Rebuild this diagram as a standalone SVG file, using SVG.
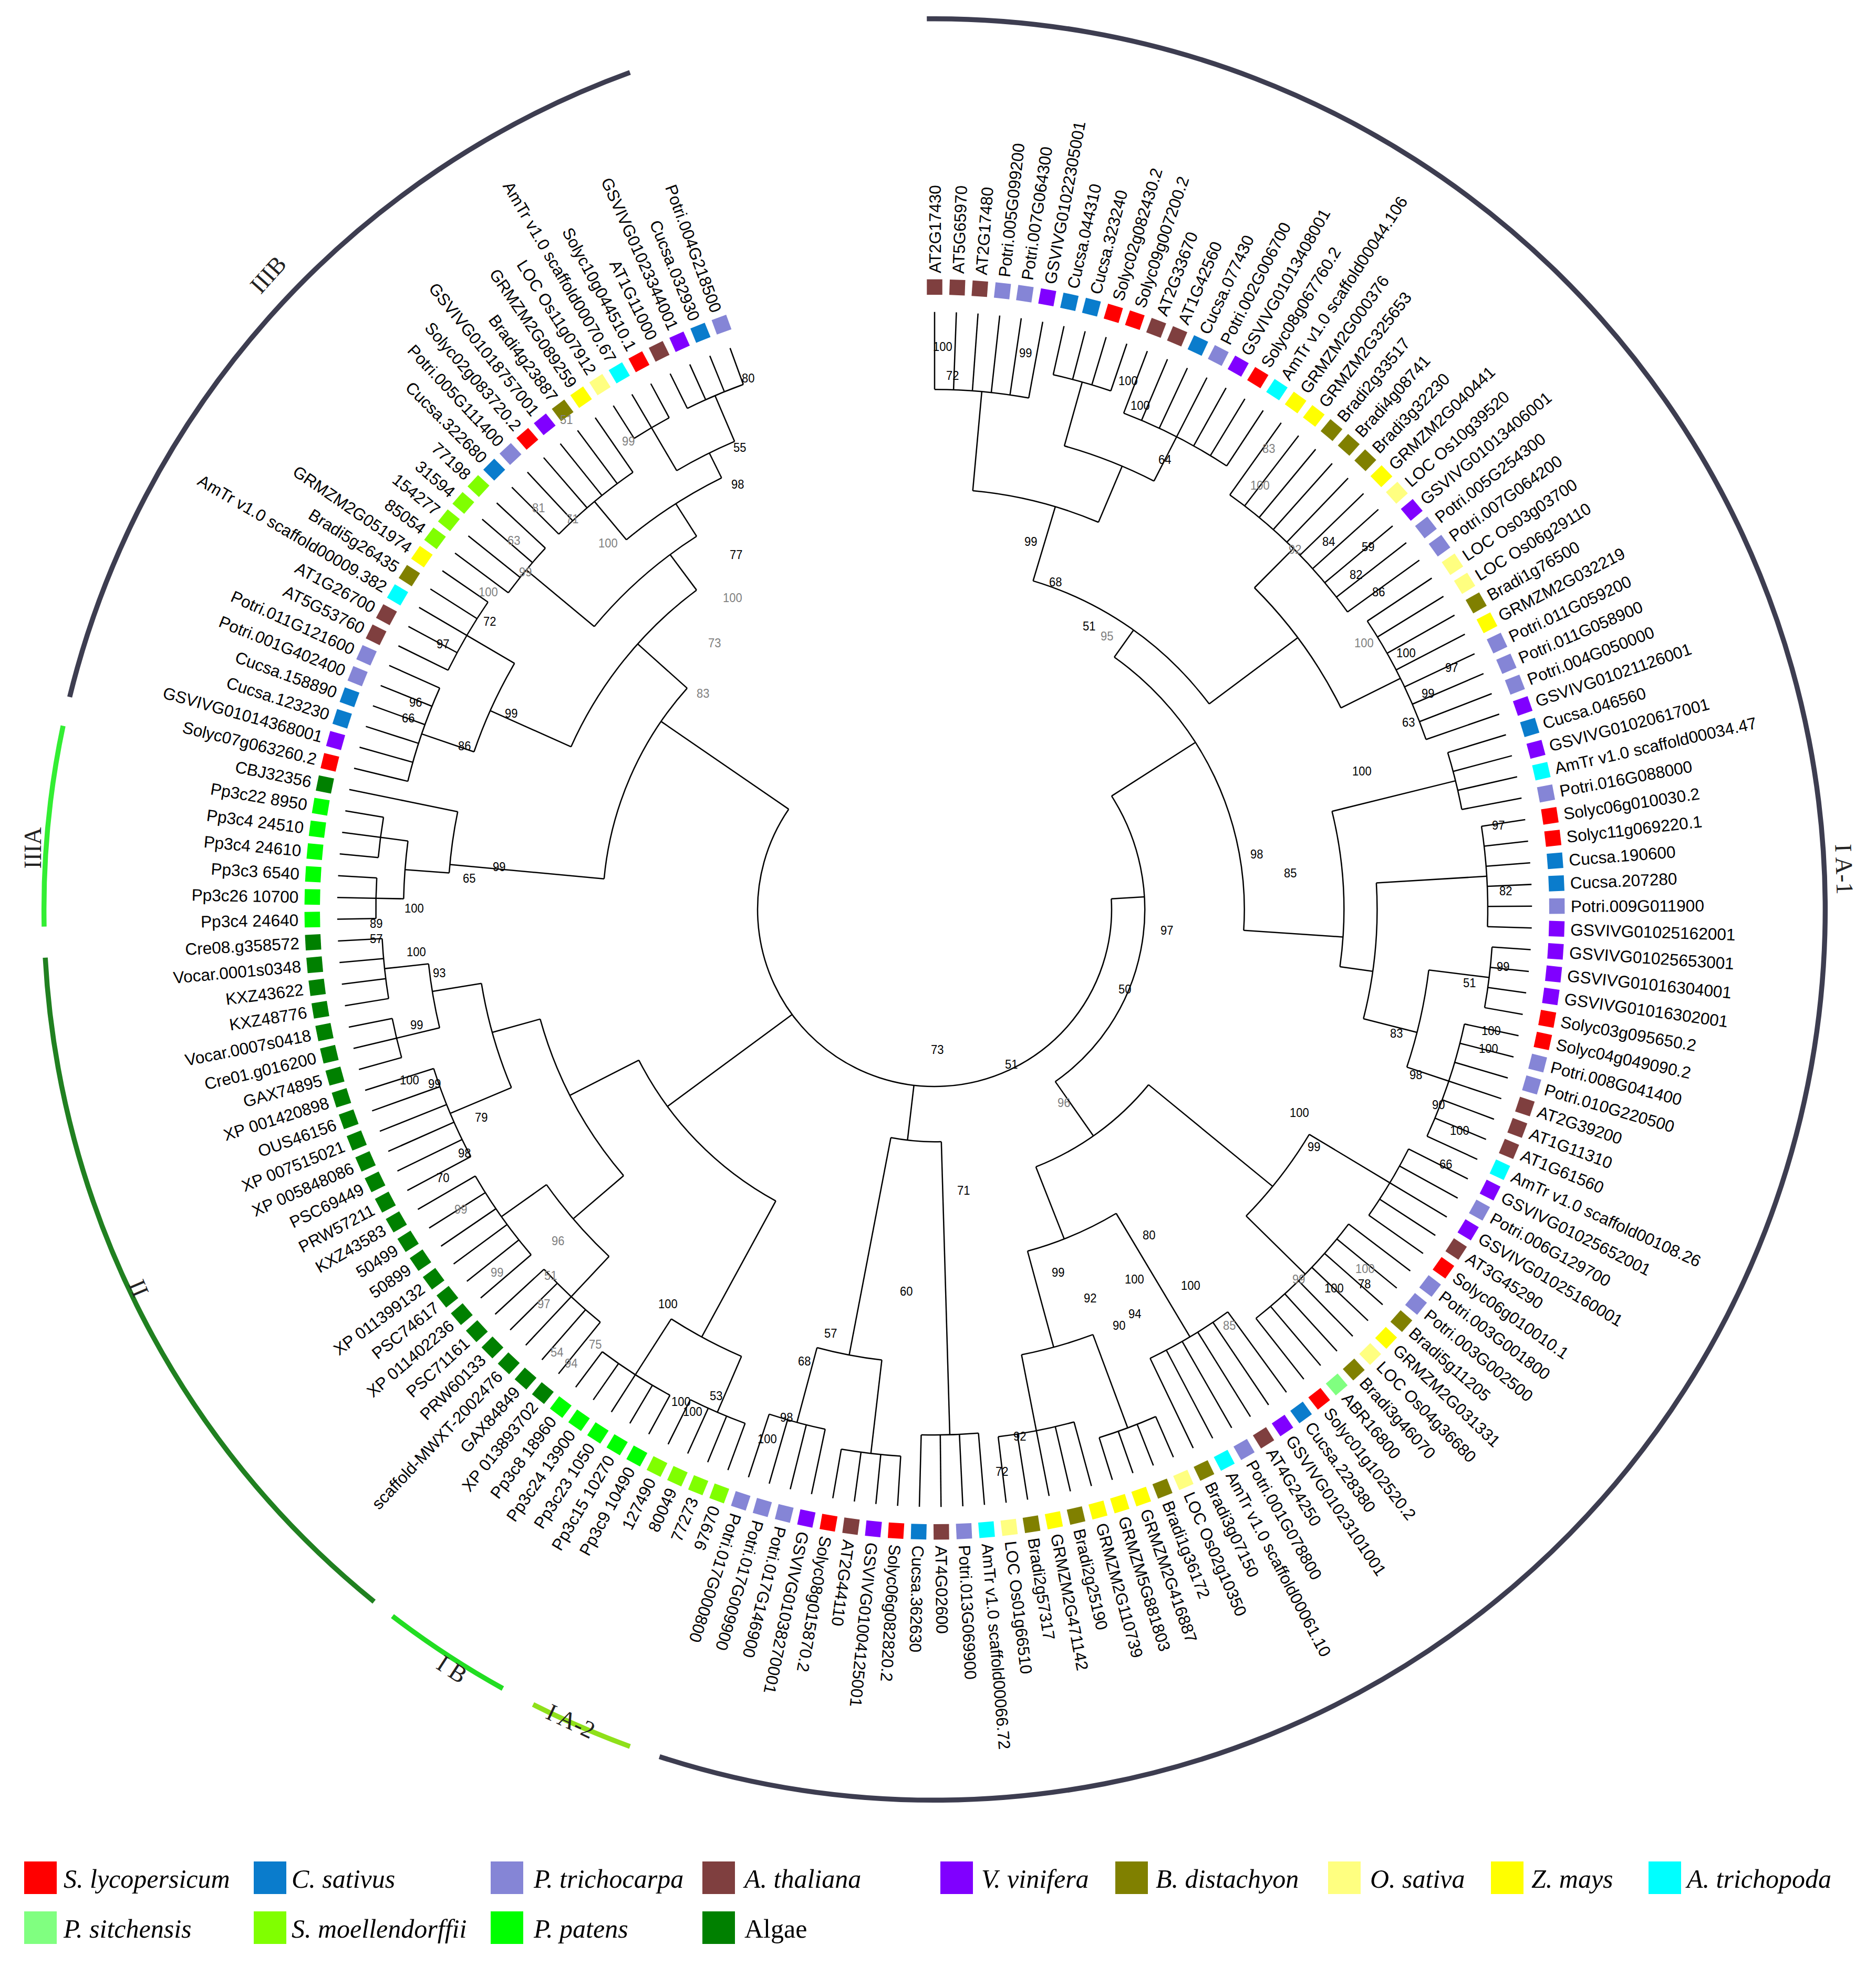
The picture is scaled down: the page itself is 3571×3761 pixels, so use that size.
<svg xmlns="http://www.w3.org/2000/svg" width="3571" height="3761" viewBox="0 0 3571 3761">
<style>
.t text{font-family:"Liberation Sans",Arial,sans-serif;font-size:30px;fill:#000}
.t .e{text-anchor:end}
.cn path,.cn circle{stroke:#000;stroke-width:2.4;fill:none}
.cl{fill:none;stroke-width:9}
.sl{fill:#ff0000}.cs{fill:#0a7ccc}.pt{fill:#8585d6}.at{fill:#7f3f3f}.vv{fill:#8000ff}.bd{fill:#808000}.os{fill:#ffff80}.zm{fill:#ffff00}.am{fill:#00ffff}.ps{fill:#80ff80}.sm{fill:#80ff00}.pp{fill:#00ff00}.al{fill:#008000}
.b{font-family:"Liberation Sans",Arial,sans-serif;font-size:22px;fill:#000}
.g{fill:#808080}
.cln{font-family:"Liberation Serif","Times New Roman",serif;font-size:46px;fill:#222}
.lg{font-family:"Liberation Serif","Times New Roman",serif;font-size:50px;font-style:italic;fill:#000}
.lgn{font-family:"Liberation Serif","Times New Roman",serif;font-size:50px;font-style:normal;fill:#000}
</style>
<rect width="3571" height="3761" fill="#fff"/>
<g transform="translate(1779,1731) scale(1.053)">
<g id="clade-arcs">
<circle class="cl" r="1610" pathLength="360" stroke="#3d3d50" stroke-dasharray="198.5 720" transform="rotate(-90.5)"/>
<circle class="cl" r="1610" pathLength="360" stroke="#8fe01a" stroke-dasharray="6.8 720" transform="rotate(110)"/>
<circle class="cl" r="1610" pathLength="360" stroke="#22dd22" stroke-dasharray="8.5 720" transform="rotate(119)"/>
<circle class="cl" r="1610" pathLength="360" stroke="#208020" stroke-dasharray="47.9 720" transform="rotate(129)"/>
<circle class="cl" r="1610" pathLength="360" stroke="#33ee33" stroke-dasharray="13 720" transform="rotate(178.9)"/>
<circle class="cl" r="1610" pathLength="360" stroke="#3d3d50" stroke-dasharray="56.2 720" transform="rotate(193.8)"/>
</g>
<g id="connectors" class="cn">
<circle r="320" pathLength="360" stroke-dasharray="217.94 720" transform="rotate(-3.44)"/>
<circle r="600" pathLength="360" stroke-dasharray="36.5 720" transform="rotate(185.3)"/>
<circle r="880" pathLength="360" stroke-dasharray="7.3 720" transform="rotate(184.3)"/>
<circle r="960" pathLength="360" stroke-dasharray="6.26 720" transform="rotate(181.15)"/>
<circle r="1010" pathLength="360" stroke-dasharray="4.17 720" transform="rotate(179.07)"/>
<circle r="1010" pathLength="360" stroke-dasharray="4.17 720" transform="rotate(185.33)"/>
<circle r="720" pathLength="360" stroke-dasharray="29.2 720" transform="rotate(204.1)"/>
<circle r="880" pathLength="360" stroke-dasharray="11.47 720" transform="rotate(198.89)"/>
<circle r="980" pathLength="360" stroke-dasharray="10.43 720" transform="rotate(193.67)"/>
<circle r="980" pathLength="360" stroke-dasharray="8.35 720" transform="rotate(206.18)"/>
<circle r="800" pathLength="360" stroke-dasharray="17.73 720" transform="rotate(219.74)"/>
<circle r="960" pathLength="360" stroke-dasharray="6.26 720" transform="rotate(216.61)"/>
<circle r="870" pathLength="360" stroke-dasharray="13.55 720" transform="rotate(230.18)"/>
<circle r="960" pathLength="360" stroke-dasharray="10.43 720" transform="rotate(224.96)"/>
<circle r="920" pathLength="360" stroke-dasharray="7.3 720" transform="rotate(239.56)"/>
<circle r="1010" pathLength="360" stroke-dasharray="4.17 720" transform="rotate(237.47)"/>
<circle r="1010" pathLength="360" stroke-dasharray="6.25 720" transform="rotate(243.73)"/>
<circle r="600" pathLength="360" stroke-dasharray="34.42 720" transform="rotate(118.58)"/>
<circle r="880" pathLength="360" stroke-dasharray="9.38 720" transform="rotate(113.37)"/>
<circle r="990" pathLength="360" stroke-dasharray="6.25 720" transform="rotate(110.24)"/>
<circle r="1000" pathLength="360" stroke-dasharray="8.34 720" transform="rotate(118.58)"/>
<circle r="740" pathLength="360" stroke-dasharray="25.03 720" transform="rotate(139.44)"/>
<circle r="860" pathLength="360" stroke-dasharray="11.48 720" transform="rotate(133.18)"/>
<circle r="960" pathLength="360" stroke-dasharray="8.34 720" transform="rotate(129.01)"/>
<circle r="960" pathLength="360" stroke-dasharray="10.43 720" transform="rotate(139.44)"/>
<circle r="830" pathLength="360" stroke-dasharray="13.56 720" transform="rotate(157.17)"/>
<circle r="950" pathLength="360" stroke-dasharray="10.43 720" transform="rotate(151.95)"/>
<circle r="920" pathLength="360" stroke-dasharray="7.31 720" transform="rotate(166.55)"/>
<circle r="1000" pathLength="360" stroke-dasharray="4.17 720" transform="rotate(164.47)"/>
<circle r="1000" pathLength="360" stroke-dasharray="6.25 720" transform="rotate(170.73)"/>
<circle r="420" pathLength="360" stroke-dasharray="12.51 720" transform="rotate(88.34)"/>
<circle r="950" pathLength="360" stroke-dasharray="6.25 720" transform="rotate(85.21)"/>
<circle r="820" pathLength="360" stroke-dasharray="8.34 720" transform="rotate(96.68)"/>
<circle r="990" pathLength="360" stroke-dasharray="6.26 720" transform="rotate(93.55)"/>
<circle r="960" pathLength="360" stroke-dasharray="6.26 720" transform="rotate(101.89)"/>
<circle r="380" pathLength="360" stroke-dasharray="87.6 720" transform="rotate(-32.64)"/>
<circle r="560" pathLength="360" stroke-dasharray="58.4 720" transform="rotate(-54.54)"/>
<circle r="620" pathLength="360" stroke-dasharray="36.5 720" transform="rotate(-73.31)"/>
<circle r="760" pathLength="360" stroke-dasharray="17.73 720" transform="rotate(-84.79)"/>
<circle r="940" pathLength="360" stroke-dasharray="10.43 720" transform="rotate(-90)"/>
<circle r="870" pathLength="360" stroke-dasharray="11.48 720" transform="rotate(-74.36)"/>
<circle r="990" pathLength="360" stroke-dasharray="6.26 720" transform="rotate(-77.49)"/>
<circle r="960" pathLength="360" stroke-dasharray="12.51 720" transform="rotate(-69.14)"/>
<circle r="820" pathLength="360" stroke-dasharray="18.78 720" transform="rotate(-45.16)"/>
<circle r="920" pathLength="360" stroke-dasharray="18.77 720" transform="rotate(-54.54)"/>
<circle r="940" pathLength="360" stroke-dasharray="14.6 720" transform="rotate(-33.68)"/>
<circle r="740" pathLength="360" stroke-dasharray="21.91 720" transform="rotate(-13.87)"/>
<circle r="970" pathLength="360" stroke-dasharray="6.26 720" transform="rotate(-17)"/>
<circle r="800" pathLength="360" stroke-dasharray="17.73 720" transform="rotate(-3.44)"/>
<circle r="1000" pathLength="360" stroke-dasharray="10.43 720" transform="rotate(-8.65)"/>
<circle r="900" pathLength="360" stroke-dasharray="11.47 720" transform="rotate(6.99)"/>
<circle r="1010" pathLength="360" stroke-dasharray="6.26 720" transform="rotate(3.86)"/>
<circle r="980" pathLength="360" stroke-dasharray="12.52 720" transform="rotate(12.2)"/>
<circle r="500" pathLength="360" stroke-dasharray="29.2 720" transform="rotate(39.32)"/>
<circle r="790" pathLength="360" stroke-dasharray="13.55 720" transform="rotate(30.98)"/>
<circle r="960" pathLength="360" stroke-dasharray="8.35 720" transform="rotate(26.8)"/>
<circle r="940" pathLength="360" stroke-dasharray="14.6 720" transform="rotate(37.23)"/>
<circle r="640" pathLength="360" stroke-dasharray="15.64 720" transform="rotate(59.14)"/>
<circle r="900" pathLength="360" stroke-dasharray="10.43 720" transform="rotate(53.92)"/>
<circle r="820" pathLength="360" stroke-dasharray="9.38 720" transform="rotate(69.57)"/>
<circle r="1000" pathLength="360" stroke-dasharray="6.25 720" transform="rotate(66.44)"/>
<circle r="960" pathLength="360" stroke-dasharray="8.34 720" transform="rotate(74.78)"/>
<path d="M320 0H600" transform="rotate(214.5)"/>
<path d="M320 0H600" transform="rotate(143.6)"/>
<path d="M320 0H420" transform="rotate(96.7)"/>
<path d="M320 0H380" transform="rotate(-3.44)"/>
<path d="M600 0H880" transform="rotate(185.3)"/>
<path d="M600 0H720" transform="rotate(221.8)"/>
<path d="M880 0H960" transform="rotate(184.3)"/>
<path d="M960 0H1010" transform="rotate(181.15)"/>
<path d="M960 0H1010" transform="rotate(187.41)"/>
<path d="M720 0H880" transform="rotate(204.1)"/>
<path d="M720 0H800" transform="rotate(233.3)"/>
<path d="M880 0H980" transform="rotate(198.89)"/>
<path d="M880 0H980" transform="rotate(210.36)"/>
<path d="M800 0H960" transform="rotate(219.74)"/>
<path d="M800 0H870" transform="rotate(237.47)"/>
<path d="M870 0H960" transform="rotate(230.18)"/>
<path d="M870 0H920" transform="rotate(243.73)"/>
<path d="M920 0H1010" transform="rotate(239.56)"/>
<path d="M920 0H1010" transform="rotate(246.86)"/>
<path d="M600 0H880" transform="rotate(118.58)"/>
<path d="M600 0H740" transform="rotate(153)"/>
<path d="M880 0H990" transform="rotate(113.37)"/>
<path d="M880 0H1000" transform="rotate(122.75)"/>
<path d="M740 0H860" transform="rotate(139.44)"/>
<path d="M740 0H830" transform="rotate(164.47)"/>
<path d="M860 0H960" transform="rotate(133.18)"/>
<path d="M860 0H960" transform="rotate(144.66)"/>
<path d="M830 0H950" transform="rotate(157.17)"/>
<path d="M830 0H920" transform="rotate(170.73)"/>
<path d="M920 0H1000" transform="rotate(166.55)"/>
<path d="M920 0H1000" transform="rotate(173.86)"/>
<path d="M420 0H950" transform="rotate(88.34)"/>
<path d="M420 0H820" transform="rotate(100.85)"/>
<path d="M820 0H990" transform="rotate(96.68)"/>
<path d="M820 0H960" transform="rotate(105.02)"/>
<path d="M380 0H560" transform="rotate(-32.64)"/>
<path d="M380 0H500" transform="rotate(54.96)"/>
<path d="M560 0H620" transform="rotate(-54.54)"/>
<path d="M560 0H740" transform="rotate(3.86)"/>
<path d="M620 0H760" transform="rotate(-73.31)"/>
<path d="M620 0H820" transform="rotate(-36.81)"/>
<path d="M760 0H940" transform="rotate(-84.79)"/>
<path d="M760 0H870" transform="rotate(-67.06)"/>
<path d="M870 0H990" transform="rotate(-74.36)"/>
<path d="M870 0H960" transform="rotate(-62.88)"/>
<path d="M820 0H920" transform="rotate(-45.16)"/>
<path d="M820 0H940" transform="rotate(-26.38)"/>
<path d="M740 0H970" transform="rotate(-13.87)"/>
<path d="M740 0H800" transform="rotate(8.04)"/>
<path d="M800 0H1000" transform="rotate(-3.44)"/>
<path d="M800 0H900" transform="rotate(14.29)"/>
<path d="M900 0H1010" transform="rotate(6.99)"/>
<path d="M900 0H980" transform="rotate(18.46)"/>
<path d="M500 0H790" transform="rotate(39.32)"/>
<path d="M500 0H640" transform="rotate(68.52)"/>
<path d="M790 0H960" transform="rotate(30.98)"/>
<path d="M790 0H940" transform="rotate(44.53)"/>
<path d="M640 0H900" transform="rotate(59.14)"/>
<path d="M640 0H820" transform="rotate(74.78)"/>
<path d="M820 0H1000" transform="rotate(69.57)"/>
<path d="M820 0H960" transform="rotate(78.95)"/>
<path d="M940 0H1080" transform="rotate(-90)"/>
<path d="M940 0H1080" transform="rotate(-87.91)"/>
<path d="M940 0H1080" transform="rotate(-85.83)"/>
<path d="M940 0H1080" transform="rotate(-83.74)"/>
<path d="M940 0H1080" transform="rotate(-81.66)"/>
<path d="M940 0H1080" transform="rotate(-79.57)"/>
<path d="M990 0H1080" transform="rotate(-77.49)"/>
<path d="M990 0H1080" transform="rotate(-75.4)"/>
<path d="M990 0H1080" transform="rotate(-73.31)"/>
<path d="M990 0H1080" transform="rotate(-71.23)"/>
<path d="M960 0H1080" transform="rotate(-69.14)"/>
<path d="M960 0H1080" transform="rotate(-67.06)"/>
<path d="M960 0H1080" transform="rotate(-64.97)"/>
<path d="M960 0H1080" transform="rotate(-62.88)"/>
<path d="M960 0H1080" transform="rotate(-60.8)"/>
<path d="M960 0H1080" transform="rotate(-58.71)"/>
<path d="M960 0H1080" transform="rotate(-56.63)"/>
<path d="M920 0H1080" transform="rotate(-54.54)"/>
<path d="M920 0H1080" transform="rotate(-52.46)"/>
<path d="M920 0H1080" transform="rotate(-50.37)"/>
<path d="M920 0H1080" transform="rotate(-48.28)"/>
<path d="M920 0H1080" transform="rotate(-46.2)"/>
<path d="M920 0H1080" transform="rotate(-44.11)"/>
<path d="M920 0H1080" transform="rotate(-42.03)"/>
<path d="M920 0H1080" transform="rotate(-39.94)"/>
<path d="M920 0H1080" transform="rotate(-37.86)"/>
<path d="M920 0H1080" transform="rotate(-35.77)"/>
<path d="M940 0H1080" transform="rotate(-33.68)"/>
<path d="M940 0H1080" transform="rotate(-31.6)"/>
<path d="M940 0H1080" transform="rotate(-29.51)"/>
<path d="M940 0H1080" transform="rotate(-27.43)"/>
<path d="M940 0H1080" transform="rotate(-25.34)"/>
<path d="M940 0H1080" transform="rotate(-23.25)"/>
<path d="M940 0H1080" transform="rotate(-21.17)"/>
<path d="M940 0H1080" transform="rotate(-19.08)"/>
<path d="M970 0H1080" transform="rotate(-17)"/>
<path d="M970 0H1080" transform="rotate(-14.91)"/>
<path d="M970 0H1080" transform="rotate(-12.83)"/>
<path d="M970 0H1080" transform="rotate(-10.74)"/>
<path d="M1000 0H1080" transform="rotate(-8.65)"/>
<path d="M1000 0H1080" transform="rotate(-6.57)"/>
<path d="M1000 0H1080" transform="rotate(-4.48)"/>
<path d="M1000 0H1080" transform="rotate(-2.4)"/>
<path d="M1000 0H1080" transform="rotate(-0.31)"/>
<path d="M1000 0H1080" transform="rotate(1.78)"/>
<path d="M1010 0H1080" transform="rotate(3.86)"/>
<path d="M1010 0H1080" transform="rotate(5.95)"/>
<path d="M1010 0H1080" transform="rotate(8.03)"/>
<path d="M1010 0H1080" transform="rotate(10.12)"/>
<path d="M980 0H1080" transform="rotate(12.2)"/>
<path d="M980 0H1080" transform="rotate(14.29)"/>
<path d="M980 0H1080" transform="rotate(16.38)"/>
<path d="M980 0H1080" transform="rotate(18.46)"/>
<path d="M980 0H1080" transform="rotate(20.55)"/>
<path d="M980 0H1080" transform="rotate(22.63)"/>
<path d="M980 0H1080" transform="rotate(24.72)"/>
<path d="M960 0H1080" transform="rotate(26.8)"/>
<path d="M960 0H1080" transform="rotate(28.89)"/>
<path d="M960 0H1080" transform="rotate(30.98)"/>
<path d="M960 0H1080" transform="rotate(33.06)"/>
<path d="M960 0H1080" transform="rotate(35.15)"/>
<path d="M940 0H1080" transform="rotate(37.23)"/>
<path d="M940 0H1080" transform="rotate(39.32)"/>
<path d="M940 0H1080" transform="rotate(41.41)"/>
<path d="M940 0H1080" transform="rotate(43.49)"/>
<path d="M940 0H1080" transform="rotate(45.58)"/>
<path d="M940 0H1080" transform="rotate(47.66)"/>
<path d="M940 0H1080" transform="rotate(49.75)"/>
<path d="M940 0H1080" transform="rotate(51.83)"/>
<path d="M900 0H1080" transform="rotate(53.92)"/>
<path d="M900 0H1080" transform="rotate(56.01)"/>
<path d="M900 0H1080" transform="rotate(58.09)"/>
<path d="M900 0H1080" transform="rotate(60.18)"/>
<path d="M900 0H1080" transform="rotate(62.26)"/>
<path d="M900 0H1080" transform="rotate(64.35)"/>
<path d="M1000 0H1080" transform="rotate(66.44)"/>
<path d="M1000 0H1080" transform="rotate(68.52)"/>
<path d="M1000 0H1080" transform="rotate(70.61)"/>
<path d="M1000 0H1080" transform="rotate(72.69)"/>
<path d="M960 0H1080" transform="rotate(74.78)"/>
<path d="M960 0H1080" transform="rotate(76.86)"/>
<path d="M960 0H1080" transform="rotate(78.95)"/>
<path d="M960 0H1080" transform="rotate(81.04)"/>
<path d="M960 0H1080" transform="rotate(83.12)"/>
<path d="M950 0H1080" transform="rotate(85.21)"/>
<path d="M950 0H1080" transform="rotate(87.29)"/>
<path d="M950 0H1080" transform="rotate(89.38)"/>
<path d="M950 0H1080" transform="rotate(91.46)"/>
<path d="M990 0H1080" transform="rotate(93.55)"/>
<path d="M990 0H1080" transform="rotate(95.64)"/>
<path d="M990 0H1080" transform="rotate(97.72)"/>
<path d="M990 0H1080" transform="rotate(99.81)"/>
<path d="M960 0H1080" transform="rotate(101.89)"/>
<path d="M960 0H1080" transform="rotate(103.98)"/>
<path d="M960 0H1080" transform="rotate(106.07)"/>
<path d="M960 0H1080" transform="rotate(108.15)"/>
<path d="M990 0H1080" transform="rotate(110.24)"/>
<path d="M990 0H1080" transform="rotate(112.32)"/>
<path d="M990 0H1080" transform="rotate(114.41)"/>
<path d="M990 0H1080" transform="rotate(116.49)"/>
<path d="M1000 0H1080" transform="rotate(118.58)"/>
<path d="M1000 0H1080" transform="rotate(120.67)"/>
<path d="M1000 0H1080" transform="rotate(122.75)"/>
<path d="M1000 0H1080" transform="rotate(124.84)"/>
<path d="M1000 0H1080" transform="rotate(126.92)"/>
<path d="M960 0H1080" transform="rotate(129.01)"/>
<path d="M960 0H1080" transform="rotate(131.09)"/>
<path d="M960 0H1080" transform="rotate(133.18)"/>
<path d="M960 0H1080" transform="rotate(135.27)"/>
<path d="M960 0H1080" transform="rotate(137.35)"/>
<path d="M960 0H1080" transform="rotate(139.44)"/>
<path d="M960 0H1080" transform="rotate(141.52)"/>
<path d="M960 0H1080" transform="rotate(143.61)"/>
<path d="M960 0H1080" transform="rotate(145.7)"/>
<path d="M960 0H1080" transform="rotate(147.78)"/>
<path d="M960 0H1080" transform="rotate(149.87)"/>
<path d="M950 0H1080" transform="rotate(151.95)"/>
<path d="M950 0H1080" transform="rotate(154.04)"/>
<path d="M950 0H1080" transform="rotate(156.12)"/>
<path d="M950 0H1080" transform="rotate(158.21)"/>
<path d="M950 0H1080" transform="rotate(160.3)"/>
<path d="M950 0H1080" transform="rotate(162.38)"/>
<path d="M1000 0H1080" transform="rotate(164.47)"/>
<path d="M1000 0H1080" transform="rotate(166.55)"/>
<path d="M1000 0H1080" transform="rotate(168.64)"/>
<path d="M1000 0H1080" transform="rotate(170.73)"/>
<path d="M1000 0H1080" transform="rotate(172.81)"/>
<path d="M1000 0H1080" transform="rotate(174.9)"/>
<path d="M1000 0H1080" transform="rotate(176.98)"/>
<path d="M1010 0H1080" transform="rotate(179.07)"/>
<path d="M1010 0H1080" transform="rotate(181.15)"/>
<path d="M1010 0H1080" transform="rotate(183.24)"/>
<path d="M1010 0H1080" transform="rotate(185.33)"/>
<path d="M1010 0H1080" transform="rotate(187.41)"/>
<path d="M1010 0H1080" transform="rotate(189.5)"/>
<path d="M880 0H1080" transform="rotate(191.58)"/>
<path d="M980 0H1080" transform="rotate(193.67)"/>
<path d="M980 0H1080" transform="rotate(195.75)"/>
<path d="M980 0H1080" transform="rotate(197.84)"/>
<path d="M980 0H1080" transform="rotate(199.93)"/>
<path d="M980 0H1080" transform="rotate(202.01)"/>
<path d="M980 0H1080" transform="rotate(204.1)"/>
<path d="M980 0H1080" transform="rotate(206.18)"/>
<path d="M980 0H1080" transform="rotate(208.27)"/>
<path d="M980 0H1080" transform="rotate(210.36)"/>
<path d="M980 0H1080" transform="rotate(212.44)"/>
<path d="M980 0H1080" transform="rotate(214.53)"/>
<path d="M960 0H1080" transform="rotate(216.61)"/>
<path d="M960 0H1080" transform="rotate(218.7)"/>
<path d="M960 0H1080" transform="rotate(220.78)"/>
<path d="M960 0H1080" transform="rotate(222.87)"/>
<path d="M960 0H1080" transform="rotate(224.96)"/>
<path d="M960 0H1080" transform="rotate(227.04)"/>
<path d="M960 0H1080" transform="rotate(229.13)"/>
<path d="M960 0H1080" transform="rotate(231.21)"/>
<path d="M960 0H1080" transform="rotate(233.3)"/>
<path d="M960 0H1080" transform="rotate(235.39)"/>
<path d="M1010 0H1080" transform="rotate(237.47)"/>
<path d="M1010 0H1080" transform="rotate(239.56)"/>
<path d="M1010 0H1080" transform="rotate(241.64)"/>
<path d="M1010 0H1080" transform="rotate(243.73)"/>
<path d="M1010 0H1080" transform="rotate(245.81)"/>
<path d="M1010 0H1080" transform="rotate(247.9)"/>
<path d="M1010 0H1080" transform="rotate(249.98)"/>
</g>
<g class="t">
<g id="n0" transform="rotate(-90)"><rect class="at" x="1111" y="-14" width="28" height="28"/><text x="1150" y="11">AT2G17430</text></g>
<g id="n1" transform="rotate(-87.91)"><rect class="at" x="1111" y="-14" width="28" height="28"/><text x="1150" y="11">AT5G65970</text></g>
<g id="n2" transform="rotate(-85.83)"><rect class="at" x="1111" y="-14" width="28" height="28"/><text x="1150" y="11">AT2G17480</text></g>
<g id="n3" transform="rotate(-83.74)"><rect class="pt" x="1111" y="-14" width="28" height="28"/><text x="1150" y="11">Potri.005G099200</text></g>
<g id="n4" transform="rotate(-81.66)"><rect class="pt" x="1111" y="-14" width="28" height="28"/><text x="1150" y="11">Potri.007G064300</text></g>
<g id="n5" transform="rotate(-79.57)"><rect class="vv" x="1111" y="-14" width="28" height="28"/><text x="1150" y="11">GSVIVG01022305001</text></g>
<g id="n6" transform="rotate(-77.49)"><rect class="cs" x="1111" y="-14" width="28" height="28"/><text x="1150" y="11">Cucsa.044310</text></g>
<g id="n7" transform="rotate(-75.4)"><rect class="cs" x="1111" y="-14" width="28" height="28"/><text x="1150" y="11">Cucsa.323240</text></g>
<g id="n8" transform="rotate(-73.31)"><rect class="sl" x="1111" y="-14" width="28" height="28"/><text x="1150" y="11">Solyc02g082430.2</text></g>
<g id="n9" transform="rotate(-71.23)"><rect class="sl" x="1111" y="-14" width="28" height="28"/><text x="1150" y="11">Solyc09g007200.2</text></g>
<g id="n10" transform="rotate(-69.14)"><rect class="at" x="1111" y="-14" width="28" height="28"/><text x="1150" y="11">AT2G33670</text></g>
<g id="n11" transform="rotate(-67.06)"><rect class="at" x="1111" y="-14" width="28" height="28"/><text x="1150" y="11">AT1G42560</text></g>
<g id="n12" transform="rotate(-64.97)"><rect class="cs" x="1111" y="-14" width="28" height="28"/><text x="1150" y="11">Cucsa.077430</text></g>
<g id="n13" transform="rotate(-62.88)"><rect class="pt" x="1111" y="-14" width="28" height="28"/><text x="1150" y="11">Potri.002G006700</text></g>
<g id="n14" transform="rotate(-60.8)"><rect class="vv" x="1111" y="-14" width="28" height="28"/><text x="1150" y="11">GSVIVG01013408001</text></g>
<g id="n15" transform="rotate(-58.71)"><rect class="sl" x="1111" y="-14" width="28" height="28"/><text x="1150" y="11">Solyc08g067760.2</text></g>
<g id="n16" transform="rotate(-56.63)"><rect class="am" x="1111" y="-14" width="28" height="28"/><text x="1150" y="11">AmTr v1.0 scaffold00044.106</text></g>
<g id="n17" transform="rotate(-54.54)"><rect class="zm" x="1111" y="-14" width="28" height="28"/><text x="1150" y="11">GRMZM2G000376</text></g>
<g id="n18" transform="rotate(-52.46)"><rect class="zm" x="1111" y="-14" width="28" height="28"/><text x="1150" y="11">GRMZM2G325653</text></g>
<g id="n19" transform="rotate(-50.37)"><rect class="bd" x="1111" y="-14" width="28" height="28"/><text x="1150" y="11">Bradi2g33517</text></g>
<g id="n20" transform="rotate(-48.28)"><rect class="bd" x="1111" y="-14" width="28" height="28"/><text x="1150" y="11">Bradi4g08741</text></g>
<g id="n21" transform="rotate(-46.2)"><rect class="bd" x="1111" y="-14" width="28" height="28"/><text x="1150" y="11">Bradi3g32230</text></g>
<g id="n22" transform="rotate(-44.11)"><rect class="zm" x="1111" y="-14" width="28" height="28"/><text x="1150" y="11">GRMZM2G040441</text></g>
<g id="n23" transform="rotate(-42.03)"><rect class="os" x="1111" y="-14" width="28" height="28"/><text x="1150" y="11">LOC Os10g39520</text></g>
<g id="n24" transform="rotate(-39.94)"><rect class="vv" x="1111" y="-14" width="28" height="28"/><text x="1150" y="11">GSVIVG01013406001</text></g>
<g id="n25" transform="rotate(-37.86)"><rect class="pt" x="1111" y="-14" width="28" height="28"/><text x="1150" y="11">Potri.005G254300</text></g>
<g id="n26" transform="rotate(-35.77)"><rect class="pt" x="1111" y="-14" width="28" height="28"/><text x="1150" y="11">Potri.007G064200</text></g>
<g id="n27" transform="rotate(-33.68)"><rect class="os" x="1111" y="-14" width="28" height="28"/><text x="1150" y="11">LOC Os03g03700</text></g>
<g id="n28" transform="rotate(-31.6)"><rect class="os" x="1111" y="-14" width="28" height="28"/><text x="1150" y="11">LOC Os06g29110</text></g>
<g id="n29" transform="rotate(-29.51)"><rect class="bd" x="1111" y="-14" width="28" height="28"/><text x="1150" y="11">Bradi1g76500</text></g>
<g id="n30" transform="rotate(-27.43)"><rect class="zm" x="1111" y="-14" width="28" height="28"/><text x="1150" y="11">GRMZM2G032219</text></g>
<g id="n31" transform="rotate(-25.34)"><rect class="pt" x="1111" y="-14" width="28" height="28"/><text x="1150" y="11">Potri.011G059200</text></g>
<g id="n32" transform="rotate(-23.25)"><rect class="pt" x="1111" y="-14" width="28" height="28"/><text x="1150" y="11">Potri.011G058900</text></g>
<g id="n33" transform="rotate(-21.17)"><rect class="pt" x="1111" y="-14" width="28" height="28"/><text x="1150" y="11">Potri.004G050000</text></g>
<g id="n34" transform="rotate(-19.08)"><rect class="vv" x="1111" y="-14" width="28" height="28"/><text x="1150" y="11">GSVIVG01021126001</text></g>
<g id="n35" transform="rotate(-17)"><rect class="cs" x="1111" y="-14" width="28" height="28"/><text x="1150" y="11">Cucsa.046560</text></g>
<g id="n36" transform="rotate(-14.91)"><rect class="vv" x="1111" y="-14" width="28" height="28"/><text x="1150" y="11">GSVIVG01020617001</text></g>
<g id="n37" transform="rotate(-12.83)"><rect class="am" x="1111" y="-14" width="28" height="28"/><text x="1150" y="11">AmTr v1.0 scaffold00034.47</text></g>
<g id="n38" transform="rotate(-10.74)"><rect class="pt" x="1111" y="-14" width="28" height="28"/><text x="1150" y="11">Potri.016G088000</text></g>
<g id="n39" transform="rotate(-8.65)"><rect class="sl" x="1111" y="-14" width="28" height="28"/><text x="1150" y="11">Solyc06g010030.2</text></g>
<g id="n40" transform="rotate(-6.57)"><rect class="sl" x="1111" y="-14" width="28" height="28"/><text x="1150" y="11">Solyc11g069220.1</text></g>
<g id="n41" transform="rotate(-4.48)"><rect class="cs" x="1111" y="-14" width="28" height="28"/><text x="1150" y="11">Cucsa.190600</text></g>
<g id="n42" transform="rotate(-2.4)"><rect class="cs" x="1111" y="-14" width="28" height="28"/><text x="1150" y="11">Cucsa.207280</text></g>
<g id="n43" transform="rotate(-0.31)"><rect class="pt" x="1111" y="-14" width="28" height="28"/><text x="1150" y="11">Potri.009G011900</text></g>
<g id="n44" transform="rotate(1.78)"><rect class="vv" x="1111" y="-14" width="28" height="28"/><text x="1150" y="11">GSVIVG01025162001</text></g>
<g id="n45" transform="rotate(3.86)"><rect class="vv" x="1111" y="-14" width="28" height="28"/><text x="1150" y="11">GSVIVG01025653001</text></g>
<g id="n46" transform="rotate(5.95)"><rect class="vv" x="1111" y="-14" width="28" height="28"/><text x="1150" y="11">GSVIVG01016304001</text></g>
<g id="n47" transform="rotate(8.03)"><rect class="vv" x="1111" y="-14" width="28" height="28"/><text x="1150" y="11">GSVIVG01016302001</text></g>
<g id="n48" transform="rotate(10.12)"><rect class="sl" x="1111" y="-14" width="28" height="28"/><text x="1150" y="11">Solyc03g095650.2</text></g>
<g id="n49" transform="rotate(12.2)"><rect class="sl" x="1111" y="-14" width="28" height="28"/><text x="1150" y="11">Solyc04g049090.2</text></g>
<g id="n50" transform="rotate(14.29)"><rect class="pt" x="1111" y="-14" width="28" height="28"/><text x="1150" y="11">Potri.008G041400</text></g>
<g id="n51" transform="rotate(16.38)"><rect class="pt" x="1111" y="-14" width="28" height="28"/><text x="1150" y="11">Potri.010G220500</text></g>
<g id="n52" transform="rotate(18.46)"><rect class="at" x="1111" y="-14" width="28" height="28"/><text x="1150" y="11">AT2G39200</text></g>
<g id="n53" transform="rotate(20.55)"><rect class="at" x="1111" y="-14" width="28" height="28"/><text x="1150" y="11">AT1G11310</text></g>
<g id="n54" transform="rotate(22.63)"><rect class="at" x="1111" y="-14" width="28" height="28"/><text x="1150" y="11">AT1G61560</text></g>
<g id="n55" transform="rotate(24.72)"><rect class="am" x="1111" y="-14" width="28" height="28"/><text x="1150" y="11">AmTr v1.0 scaffold00108.26</text></g>
<g id="n56" transform="rotate(26.8)"><rect class="vv" x="1111" y="-14" width="28" height="28"/><text x="1150" y="11">GSVIVG01025652001</text></g>
<g id="n57" transform="rotate(28.89)"><rect class="pt" x="1111" y="-14" width="28" height="28"/><text x="1150" y="11">Potri.006G129700</text></g>
<g id="n58" transform="rotate(30.98)"><rect class="vv" x="1111" y="-14" width="28" height="28"/><text x="1150" y="11">GSVIVG01025160001</text></g>
<g id="n59" transform="rotate(33.06)"><rect class="at" x="1111" y="-14" width="28" height="28"/><text x="1150" y="11">AT3G45290</text></g>
<g id="n60" transform="rotate(35.15)"><rect class="sl" x="1111" y="-14" width="28" height="28"/><text x="1150" y="11">Solyc06g010010.1</text></g>
<g id="n61" transform="rotate(37.23)"><rect class="pt" x="1111" y="-14" width="28" height="28"/><text x="1150" y="11">Potri.003G001800</text></g>
<g id="n62" transform="rotate(39.32)"><rect class="pt" x="1111" y="-14" width="28" height="28"/><text x="1150" y="11">Potri.003G002500</text></g>
<g id="n63" transform="rotate(41.41)"><rect class="bd" x="1111" y="-14" width="28" height="28"/><text x="1150" y="11">Bradi5g11205</text></g>
<g id="n64" transform="rotate(43.49)"><rect class="zm" x="1111" y="-14" width="28" height="28"/><text x="1150" y="11">GRMZM2G031331</text></g>
<g id="n65" transform="rotate(45.58)"><rect class="os" x="1111" y="-14" width="28" height="28"/><text x="1150" y="11">LOC Os04g36680</text></g>
<g id="n66" transform="rotate(47.66)"><rect class="bd" x="1111" y="-14" width="28" height="28"/><text x="1150" y="11">Bradi3g46070</text></g>
<g id="n67" transform="rotate(49.75)"><rect class="ps" x="1111" y="-14" width="28" height="28"/><text x="1150" y="11">ABR16800</text></g>
<g id="n68" transform="rotate(51.83)"><rect class="sl" x="1111" y="-14" width="28" height="28"/><text x="1150" y="11">Solyc01g102520.2</text></g>
<g id="n69" transform="rotate(53.92)"><rect class="cs" x="1111" y="-14" width="28" height="28"/><text x="1150" y="11">Cucsa.228380</text></g>
<g id="n70" transform="rotate(56.01)"><rect class="vv" x="1111" y="-14" width="28" height="28"/><text x="1150" y="11">GSVIVG01023101001</text></g>
<g id="n71" transform="rotate(58.09)"><rect class="at" x="1111" y="-14" width="28" height="28"/><text x="1150" y="11">AT4G24250</text></g>
<g id="n72" transform="rotate(60.18)"><rect class="pt" x="1111" y="-14" width="28" height="28"/><text x="1150" y="11">Potri.001G078800</text></g>
<g id="n73" transform="rotate(62.26)"><rect class="am" x="1111" y="-14" width="28" height="28"/><text x="1150" y="11">AmTr v1.0 scaffold00061.10</text></g>
<g id="n74" transform="rotate(64.35)"><rect class="bd" x="1111" y="-14" width="28" height="28"/><text x="1150" y="11">Bradi3g07150</text></g>
<g id="n75" transform="rotate(66.44)"><rect class="os" x="1111" y="-14" width="28" height="28"/><text x="1150" y="11">LOC Os02g10350</text></g>
<g id="n76" transform="rotate(68.52)"><rect class="bd" x="1111" y="-14" width="28" height="28"/><text x="1150" y="11">Bradi1g36172</text></g>
<g id="n77" transform="rotate(70.61)"><rect class="zm" x="1111" y="-14" width="28" height="28"/><text x="1150" y="11">GRMZM2G416887</text></g>
<g id="n78" transform="rotate(72.69)"><rect class="zm" x="1111" y="-14" width="28" height="28"/><text x="1150" y="11">GRMZM5G881803</text></g>
<g id="n79" transform="rotate(74.78)"><rect class="zm" x="1111" y="-14" width="28" height="28"/><text x="1150" y="11">GRMZM2G110739</text></g>
<g id="n80" transform="rotate(76.86)"><rect class="bd" x="1111" y="-14" width="28" height="28"/><text x="1150" y="11">Bradi2g25190</text></g>
<g id="n81" transform="rotate(78.95)"><rect class="zm" x="1111" y="-14" width="28" height="28"/><text x="1150" y="11">GRMZM2G471142</text></g>
<g id="n82" transform="rotate(81.04)"><rect class="bd" x="1111" y="-14" width="28" height="28"/><text x="1150" y="11">Bradi2g57317</text></g>
<g id="n83" transform="rotate(83.12)"><rect class="os" x="1111" y="-14" width="28" height="28"/><text x="1150" y="11">LOC Os01g66510</text></g>
<g id="n84" transform="rotate(85.21)"><rect class="am" x="1111" y="-14" width="28" height="28"/><text x="1150" y="11">AmTr v1.0 scaffold00066.72</text></g>
<g id="n85" transform="rotate(87.29)"><rect class="pt" x="1111" y="-14" width="28" height="28"/><text x="1150" y="11">Potri.013G069900</text></g>
<g id="n86" transform="rotate(89.38)"><rect class="at" x="1111" y="-14" width="28" height="28"/><text x="1150" y="11">AT4G02600</text></g>
<g id="n87" transform="rotate(91.46)"><rect class="cs" x="1111" y="-14" width="28" height="28"/><text x="1150" y="11">Cucsa.362630</text></g>
<g id="n88" transform="rotate(93.55)"><rect class="sl" x="1111" y="-14" width="28" height="28"/><text x="1150" y="11">Solyc06g082820.2</text></g>
<g id="n89" transform="rotate(95.64)"><rect class="vv" x="1111" y="-14" width="28" height="28"/><text x="1150" y="11">GSVIVG01004125001</text></g>
<g id="n90" transform="rotate(97.72)"><rect class="at" x="1111" y="-14" width="28" height="28"/><text x="1150" y="11">AT2G44110</text></g>
<g id="n91" transform="rotate(99.81)"><rect class="sl" x="1111" y="-14" width="28" height="28"/><text x="1150" y="11">Solyc08g015870.2</text></g>
<g id="n92" transform="rotate(101.89)"><rect class="vv" x="1111" y="-14" width="28" height="28"/><text x="1150" y="11">GSVIVG01038270001</text></g>
<g id="n93" transform="rotate(103.98)"><rect class="pt" x="1111" y="-14" width="28" height="28"/><text x="1150" y="11">Potri.017G146900</text></g>
<g id="n94" transform="rotate(106.07)"><rect class="pt" x="1111" y="-14" width="28" height="28"/><text x="1150" y="11">Potri.017G009900</text></g>
<g id="n95" transform="rotate(108.15)"><rect class="pt" x="1111" y="-14" width="28" height="28"/><text x="1150" y="11">Potri.017G000800</text></g>
<g id="n96" transform="rotate(110.24)"><rect class="sm" x="1111" y="-14" width="28" height="28"/><text class="e" transform="rotate(180)" x="-1150" y="11">97970</text></g>
<g id="n97" transform="rotate(112.32)"><rect class="sm" x="1111" y="-14" width="28" height="28"/><text class="e" transform="rotate(180)" x="-1150" y="11">77273</text></g>
<g id="n98" transform="rotate(114.41)"><rect class="sm" x="1111" y="-14" width="28" height="28"/><text class="e" transform="rotate(180)" x="-1150" y="11">80049</text></g>
<g id="n99" transform="rotate(116.49)"><rect class="sm" x="1111" y="-14" width="28" height="28"/><text class="e" transform="rotate(180)" x="-1150" y="11">127490</text></g>
<g id="n100" transform="rotate(118.58)"><rect class="pp" x="1111" y="-14" width="28" height="28"/><text class="e" transform="rotate(180)" x="-1150" y="11">Pp3c9 10490</text></g>
<g id="n101" transform="rotate(120.67)"><rect class="pp" x="1111" y="-14" width="28" height="28"/><text class="e" transform="rotate(180)" x="-1150" y="11">Pp3c15 10270</text></g>
<g id="n102" transform="rotate(122.75)"><rect class="pp" x="1111" y="-14" width="28" height="28"/><text class="e" transform="rotate(180)" x="-1150" y="11">Pp3c23 1050</text></g>
<g id="n103" transform="rotate(124.84)"><rect class="pp" x="1111" y="-14" width="28" height="28"/><text class="e" transform="rotate(180)" x="-1150" y="11">Pp3c24 13900</text></g>
<g id="n104" transform="rotate(126.92)"><rect class="pp" x="1111" y="-14" width="28" height="28"/><text class="e" transform="rotate(180)" x="-1150" y="11">Pp3c8 18960</text></g>
<g id="n105" transform="rotate(129.01)"><rect class="al" x="1111" y="-14" width="28" height="28"/><text class="e" transform="rotate(180)" x="-1150" y="11">XP 013893702</text></g>
<g id="n106" transform="rotate(131.09)"><rect class="al" x="1111" y="-14" width="28" height="28"/><text class="e" transform="rotate(180)" x="-1150" y="11">GAX84849</text></g>
<g id="n107" transform="rotate(133.18)"><rect class="al" x="1111" y="-14" width="28" height="28"/><text class="e" transform="rotate(180)" x="-1150" y="11">scaffold-MWXT-2002476</text></g>
<g id="n108" transform="rotate(135.27)"><rect class="al" x="1111" y="-14" width="28" height="28"/><text class="e" transform="rotate(180)" x="-1150" y="11">PRW60133</text></g>
<g id="n109" transform="rotate(137.35)"><rect class="al" x="1111" y="-14" width="28" height="28"/><text class="e" transform="rotate(180)" x="-1150" y="11">PSC71161</text></g>
<g id="n110" transform="rotate(139.44)"><rect class="al" x="1111" y="-14" width="28" height="28"/><text class="e" transform="rotate(180)" x="-1150" y="11">XP 011402236</text></g>
<g id="n111" transform="rotate(141.52)"><rect class="al" x="1111" y="-14" width="28" height="28"/><text class="e" transform="rotate(180)" x="-1150" y="11">PSC74617</text></g>
<g id="n112" transform="rotate(143.61)"><rect class="al" x="1111" y="-14" width="28" height="28"/><text class="e" transform="rotate(180)" x="-1150" y="11">XP 011399132</text></g>
<g id="n113" transform="rotate(145.7)"><rect class="al" x="1111" y="-14" width="28" height="28"/><text class="e" transform="rotate(180)" x="-1150" y="11">50899</text></g>
<g id="n114" transform="rotate(147.78)"><rect class="al" x="1111" y="-14" width="28" height="28"/><text class="e" transform="rotate(180)" x="-1150" y="11">50499</text></g>
<g id="n115" transform="rotate(149.87)"><rect class="al" x="1111" y="-14" width="28" height="28"/><text class="e" transform="rotate(180)" x="-1150" y="11">KXZ43583</text></g>
<g id="n116" transform="rotate(151.95)"><rect class="al" x="1111" y="-14" width="28" height="28"/><text class="e" transform="rotate(180)" x="-1150" y="11">PRW57211</text></g>
<g id="n117" transform="rotate(154.04)"><rect class="al" x="1111" y="-14" width="28" height="28"/><text class="e" transform="rotate(180)" x="-1150" y="11">PSC69449</text></g>
<g id="n118" transform="rotate(156.12)"><rect class="al" x="1111" y="-14" width="28" height="28"/><text class="e" transform="rotate(180)" x="-1150" y="11">XP 005848086</text></g>
<g id="n119" transform="rotate(158.21)"><rect class="al" x="1111" y="-14" width="28" height="28"/><text class="e" transform="rotate(180)" x="-1150" y="11">XP 007515021</text></g>
<g id="n120" transform="rotate(160.3)"><rect class="al" x="1111" y="-14" width="28" height="28"/><text class="e" transform="rotate(180)" x="-1150" y="11">OUS46156</text></g>
<g id="n121" transform="rotate(162.38)"><rect class="al" x="1111" y="-14" width="28" height="28"/><text class="e" transform="rotate(180)" x="-1150" y="11">XP 001420898</text></g>
<g id="n122" transform="rotate(164.47)"><rect class="al" x="1111" y="-14" width="28" height="28"/><text class="e" transform="rotate(180)" x="-1150" y="11">GAX74895</text></g>
<g id="n123" transform="rotate(166.55)"><rect class="al" x="1111" y="-14" width="28" height="28"/><text class="e" transform="rotate(180)" x="-1150" y="11">Cre01.g016200</text></g>
<g id="n124" transform="rotate(168.64)"><rect class="al" x="1111" y="-14" width="28" height="28"/><text class="e" transform="rotate(180)" x="-1150" y="11">Vocar.0007s0418</text></g>
<g id="n125" transform="rotate(170.73)"><rect class="al" x="1111" y="-14" width="28" height="28"/><text class="e" transform="rotate(180)" x="-1150" y="11">KXZ48776</text></g>
<g id="n126" transform="rotate(172.81)"><rect class="al" x="1111" y="-14" width="28" height="28"/><text class="e" transform="rotate(180)" x="-1150" y="11">KXZ43622</text></g>
<g id="n127" transform="rotate(174.9)"><rect class="al" x="1111" y="-14" width="28" height="28"/><text class="e" transform="rotate(180)" x="-1150" y="11">Vocar.0001s0348</text></g>
<g id="n128" transform="rotate(176.98)"><rect class="al" x="1111" y="-14" width="28" height="28"/><text class="e" transform="rotate(180)" x="-1150" y="11">Cre08.g358572</text></g>
<g id="n129" transform="rotate(179.07)"><rect class="pp" x="1111" y="-14" width="28" height="28"/><text class="e" transform="rotate(180)" x="-1150" y="11">Pp3c4 24640</text></g>
<g id="n130" transform="rotate(181.15)"><rect class="pp" x="1111" y="-14" width="28" height="28"/><text class="e" transform="rotate(180)" x="-1150" y="11">Pp3c26 10700</text></g>
<g id="n131" transform="rotate(183.24)"><rect class="pp" x="1111" y="-14" width="28" height="28"/><text class="e" transform="rotate(180)" x="-1150" y="11">Pp3c3 6540</text></g>
<g id="n132" transform="rotate(185.33)"><rect class="pp" x="1111" y="-14" width="28" height="28"/><text class="e" transform="rotate(180)" x="-1150" y="11">Pp3c4 24610</text></g>
<g id="n133" transform="rotate(187.41)"><rect class="pp" x="1111" y="-14" width="28" height="28"/><text class="e" transform="rotate(180)" x="-1150" y="11">Pp3c4 24510</text></g>
<g id="n134" transform="rotate(189.5)"><rect class="pp" x="1111" y="-14" width="28" height="28"/><text class="e" transform="rotate(180)" x="-1150" y="11">Pp3c22 8950</text></g>
<g id="n135" transform="rotate(191.58)"><rect class="al" x="1111" y="-14" width="28" height="28"/><text class="e" transform="rotate(180)" x="-1150" y="11">CBJ32356</text></g>
<g id="n136" transform="rotate(193.67)"><rect class="sl" x="1111" y="-14" width="28" height="28"/><text class="e" transform="rotate(180)" x="-1150" y="11">Solyc07g063260.2</text></g>
<g id="n137" transform="rotate(195.75)"><rect class="vv" x="1111" y="-14" width="28" height="28"/><text class="e" transform="rotate(180)" x="-1150" y="11">GSVIVG01014368001</text></g>
<g id="n138" transform="rotate(197.84)"><rect class="cs" x="1111" y="-14" width="28" height="28"/><text class="e" transform="rotate(180)" x="-1150" y="11">Cucsa.123230</text></g>
<g id="n139" transform="rotate(199.93)"><rect class="cs" x="1111" y="-14" width="28" height="28"/><text class="e" transform="rotate(180)" x="-1150" y="11">Cucsa.158890</text></g>
<g id="n140" transform="rotate(202.01)"><rect class="pt" x="1111" y="-14" width="28" height="28"/><text class="e" transform="rotate(180)" x="-1150" y="11">Potri.001G402400</text></g>
<g id="n141" transform="rotate(204.1)"><rect class="pt" x="1111" y="-14" width="28" height="28"/><text class="e" transform="rotate(180)" x="-1150" y="11">Potri.011G121600</text></g>
<g id="n142" transform="rotate(206.18)"><rect class="at" x="1111" y="-14" width="28" height="28"/><text class="e" transform="rotate(180)" x="-1150" y="11">AT5G53760</text></g>
<g id="n143" transform="rotate(208.27)"><rect class="at" x="1111" y="-14" width="28" height="28"/><text class="e" transform="rotate(180)" x="-1150" y="11">AT1G26700</text></g>
<g id="n144" transform="rotate(210.36)"><rect class="am" x="1111" y="-14" width="28" height="28"/><text class="e" transform="rotate(180)" x="-1150" y="11">AmTr v1.0 scaffold00009.382</text></g>
<g id="n145" transform="rotate(212.44)"><rect class="bd" x="1111" y="-14" width="28" height="28"/><text class="e" transform="rotate(180)" x="-1150" y="11">Bradi5g26435</text></g>
<g id="n146" transform="rotate(214.53)"><rect class="zm" x="1111" y="-14" width="28" height="28"/><text class="e" transform="rotate(180)" x="-1150" y="11">GRMZM2G051974</text></g>
<g id="n147" transform="rotate(216.61)"><rect class="sm" x="1111" y="-14" width="28" height="28"/><text class="e" transform="rotate(180)" x="-1150" y="11">85054</text></g>
<g id="n148" transform="rotate(218.7)"><rect class="sm" x="1111" y="-14" width="28" height="28"/><text class="e" transform="rotate(180)" x="-1150" y="11">154277</text></g>
<g id="n149" transform="rotate(220.78)"><rect class="sm" x="1111" y="-14" width="28" height="28"/><text class="e" transform="rotate(180)" x="-1150" y="11">31594</text></g>
<g id="n150" transform="rotate(222.87)"><rect class="sm" x="1111" y="-14" width="28" height="28"/><text class="e" transform="rotate(180)" x="-1150" y="11">77198</text></g>
<g id="n151" transform="rotate(224.96)"><rect class="cs" x="1111" y="-14" width="28" height="28"/><text class="e" transform="rotate(180)" x="-1150" y="11">Cucsa.322680</text></g>
<g id="n152" transform="rotate(227.04)"><rect class="pt" x="1111" y="-14" width="28" height="28"/><text class="e" transform="rotate(180)" x="-1150" y="11">Potri.005G111400</text></g>
<g id="n153" transform="rotate(229.13)"><rect class="sl" x="1111" y="-14" width="28" height="28"/><text class="e" transform="rotate(180)" x="-1150" y="11">Solyc02g083720.2</text></g>
<g id="n154" transform="rotate(231.21)"><rect class="vv" x="1111" y="-14" width="28" height="28"/><text class="e" transform="rotate(180)" x="-1150" y="11">GSVIVG01018757001</text></g>
<g id="n155" transform="rotate(233.3)"><rect class="bd" x="1111" y="-14" width="28" height="28"/><text class="e" transform="rotate(180)" x="-1150" y="11">Bradi4g23887</text></g>
<g id="n156" transform="rotate(235.39)"><rect class="zm" x="1111" y="-14" width="28" height="28"/><text class="e" transform="rotate(180)" x="-1150" y="11">GRMZM2G089259</text></g>
<g id="n157" transform="rotate(237.47)"><rect class="os" x="1111" y="-14" width="28" height="28"/><text class="e" transform="rotate(180)" x="-1150" y="11">LOC Os11g07912</text></g>
<g id="n158" transform="rotate(239.56)"><rect class="am" x="1111" y="-14" width="28" height="28"/><text class="e" transform="rotate(180)" x="-1150" y="11">AmTr v1.0 scaffold00070.67</text></g>
<g id="n159" transform="rotate(241.64)"><rect class="sl" x="1111" y="-14" width="28" height="28"/><text class="e" transform="rotate(180)" x="-1150" y="11">Solyc10g044510.1</text></g>
<g id="n160" transform="rotate(243.73)"><rect class="at" x="1111" y="-14" width="28" height="28"/><text class="e" transform="rotate(180)" x="-1150" y="11">AT1G11000</text></g>
<g id="n161" transform="rotate(245.81)"><rect class="vv" x="1111" y="-14" width="28" height="28"/><text class="e" transform="rotate(180)" x="-1150" y="11">GSVIVG01023344001</text></g>
<g id="n162" transform="rotate(247.9)"><rect class="cs" x="1111" y="-14" width="28" height="28"/><text class="e" transform="rotate(180)" x="-1150" y="11">Cucsa.032930</text></g>
<g id="n163" transform="rotate(249.98)"><rect class="pt" x="1111" y="-14" width="28" height="28"/><text class="e" transform="rotate(180)" x="-1150" y="11">Potri.004G218500</text></g>
</g>
</g>
<g id="bootstrap" transform="scale(1 1.053)">
<text class="b" x="1776" y="634">100</text><text class="b" x="1801" y="687">72</text><text class="b" x="1940" y="646">99</text><text class="b" x="2129" y="696">100</text><text class="b" x="2152" y="741">100</text><text class="b" x="2205" y="839">64</text><text class="b" x="1950" y="987">99</text><text class="b" x="1997" y="1060">68</text><text class="b" x="2061" y="1140">51</text><text class="b g" x="2095" y="1158">95</text><text class="b g" x="2403" y="819">83</text><text class="b g" x="2380" y="885">100</text><text class="b g" x="2453" y="1001">92</text><text class="b" x="2517" y="987">84</text><text class="b" x="2592" y="996">59</text><text class="b" x="2569" y="1047">82</text><text class="b" x="2612" y="1078">86</text><text class="b g" x="2578" y="1170">100</text><text class="b" x="2658" y="1188">100</text><text class="b" x="2751" y="1215">97</text><text class="b" x="2706" y="1261">99</text><text class="b" x="2669" y="1313">63</text><text class="b" x="2574" y="1402">100</text><text class="b" x="2380" y="1552">98</text><text class="b" x="2444" y="1586">85</text><text class="b" x="2840" y="1500">97</text><text class="b" x="2854" y="1618">82</text><text class="b" x="2849" y="1755">99</text><text class="b" x="2785" y="1784">51</text><text class="b" x="2820" y="1871">100</text><text class="b" x="2815" y="1903">100</text><text class="b" x="2646" y="1876">83</text><text class="b" x="2683" y="1951">98</text><text class="b" x="2726" y="2005">90</text><text class="b" x="2760" y="2051">100</text><text class="b" x="2209" y="1689">97</text><text class="b" x="2129" y="1796">50</text><text class="b" x="2455" y="2019">100</text><text class="b" x="2489" y="2081">99</text><text class="b" x="2740" y="2112">66</text><text class="b g" x="2460" y="2320">99</text><text class="b" x="2521" y="2336">100</text><text class="b g" x="2580" y="2301">100</text><text class="b" x="2585" y="2329">78</text><text class="b g" x="2013" y="2001">96</text><text class="b g" x="2328" y="2404">85</text><text class="b" x="2175" y="2240">80</text><text class="b" x="2248" y="2331">100</text><text class="b" x="2141" y="2320">100</text><text class="b" x="2148" y="2383">94</text><text class="b" x="2118" y="2404">90</text><text class="b" x="2063" y="2354">92</text><text class="b" x="2002" y="2308">99</text><text class="b" x="1929" y="2604">92</text><text class="b" x="1895" y="2668">72</text><text class="b" x="1822" y="2160">71</text><text class="b" x="1713" y="2342">60</text><text class="b" x="1569" y="2418">57</text><text class="b" x="1519" y="2468">68</text><text class="b" x="1485" y="2570">98</text><text class="b" x="1442" y="2609">100</text><text class="b" x="1351" y="2531">53</text><text class="b" x="1300" y="2559">100</text><text class="b" x="1278" y="2541">100</text><text class="b" x="1253" y="2365">100</text><text class="b g" x="1121" y="2438">75</text><text class="b g" x="1048" y="2452">54</text><text class="b g" x="1075" y="2472">94</text><text class="b" x="1772" y="1905">73</text><text class="b" x="1913" y="1932">51</text><text class="b g" x="1050" y="2251">96</text><text class="b g" x="1036" y="2313">51</text><text class="b g" x="1023" y="2365">97</text><text class="b g" x="934" y="2308">99</text><text class="b g" x="865" y="2194">99</text><text class="b" x="831" y="2137">70</text><text class="b" x="872" y="2092">98</text><text class="b" x="904" y="2028">79</text><text class="b" x="815" y="1967">99</text><text class="b" x="761" y="1960">100</text><text class="b" x="781" y="1860">99</text><text class="b" x="824" y="1766">93</text><text class="b" x="774" y="1728">100</text><text class="b" x="704" y="1705">57</text><text class="b" x="704" y="1677">89</text><text class="b" x="770" y="1650">100</text><text class="b" x="881" y="1595">65</text><text class="b" x="938" y="1575">99</text><text class="b" x="872" y="1356">86</text><text class="b" x="961" y="1297">99</text><text class="b" x="765" y="1306">66</text><text class="b" x="779" y="1277">96</text><text class="b" x="831" y="1172">97</text><text class="b" x="920" y="1131">72</text><text class="b g" x="911" y="1078">100</text><text class="b g" x="988" y="1042">99</text><text class="b g" x="966" y="985">63</text><text class="b g" x="1013" y="926">81</text><text class="b g" x="1077" y="946">71</text><text class="b g" x="1139" y="990">100</text><text class="b g" x="1066" y="766">51</text><text class="b g" x="1184" y="805">99</text><text class="b g" x="1348" y="1170">73</text><text class="b g" x="1326" y="1261">83</text><text class="b g" x="1376" y="1088">100</text><text class="b" x="1389" y="1010">77</text><text class="b" x="1392" y="883">98</text><text class="b" x="1396" y="817">55</text><text class="b" x="1412" y="691">80</text>
</g>
<g id="clade-labels">
<text class="cln" transform="translate(3495,1655) rotate(88)" text-anchor="middle">I A-1</text>
<text class="cln" transform="translate(1080,3290) rotate(25)" text-anchor="middle">I A-2</text>
<text class="cln" transform="translate(852,3190) rotate(33)" text-anchor="middle">I B</text>
<text class="cln" transform="translate(250,2458) rotate(67)" text-anchor="middle">II</text>
<text class="cln" transform="translate(78,1614) rotate(-90)" text-anchor="middle">IIIA</text>
<text class="cln" transform="translate(522,533) rotate(-48)" text-anchor="middle">IIIB</text>
</g>
<g id="legend">
<rect class="sl" x="46" y="3543" width="62" height="62"/><text class="lg" x="121" y="3593">S. lycopersicum</text>
<rect class="cs" x="483" y="3543" width="62" height="62"/><text class="lg" x="555" y="3593">C. sativus</text>
<rect class="pt" x="934" y="3543" width="62" height="62"/><text class="lg" x="1016" y="3593">P. trichocarpa</text>
<rect class="at" x="1337" y="3543" width="62" height="62"/><text class="lg" x="1417" y="3593">A. thaliana</text>
<rect class="vv" x="1790" y="3543" width="62" height="62"/><text class="lg" x="1868" y="3593">V. vinifera</text>
<rect class="bd" x="2123" y="3543" width="62" height="62"/><text class="lg" x="2200" y="3593">B. distachyon</text>
<rect class="os" x="2528" y="3543" width="62" height="62"/><text class="lg" x="2608" y="3593">O. sativa</text>
<rect class="zm" x="2838" y="3543" width="62" height="62"/><text class="lg" x="2915" y="3593">Z. mays</text>
<rect class="am" x="3138" y="3543" width="62" height="62"/><text class="lg" x="3211" y="3593">A. trichopoda</text>
<rect class="ps" x="46" y="3638" width="62" height="62"/><text class="lg" x="121" y="3688">P. sitchensis</text>
<rect class="sm" x="483" y="3638" width="62" height="62"/><text class="lg" x="555" y="3688">S. moellendorffii</text>
<rect class="pp" x="934" y="3638" width="62" height="62"/><text class="lg" x="1016" y="3688">P. patens</text>
<rect class="al" x="1337" y="3638" width="62" height="62"/><text class="lgn" x="1417" y="3688">Algae</text>
</g>
</svg>
